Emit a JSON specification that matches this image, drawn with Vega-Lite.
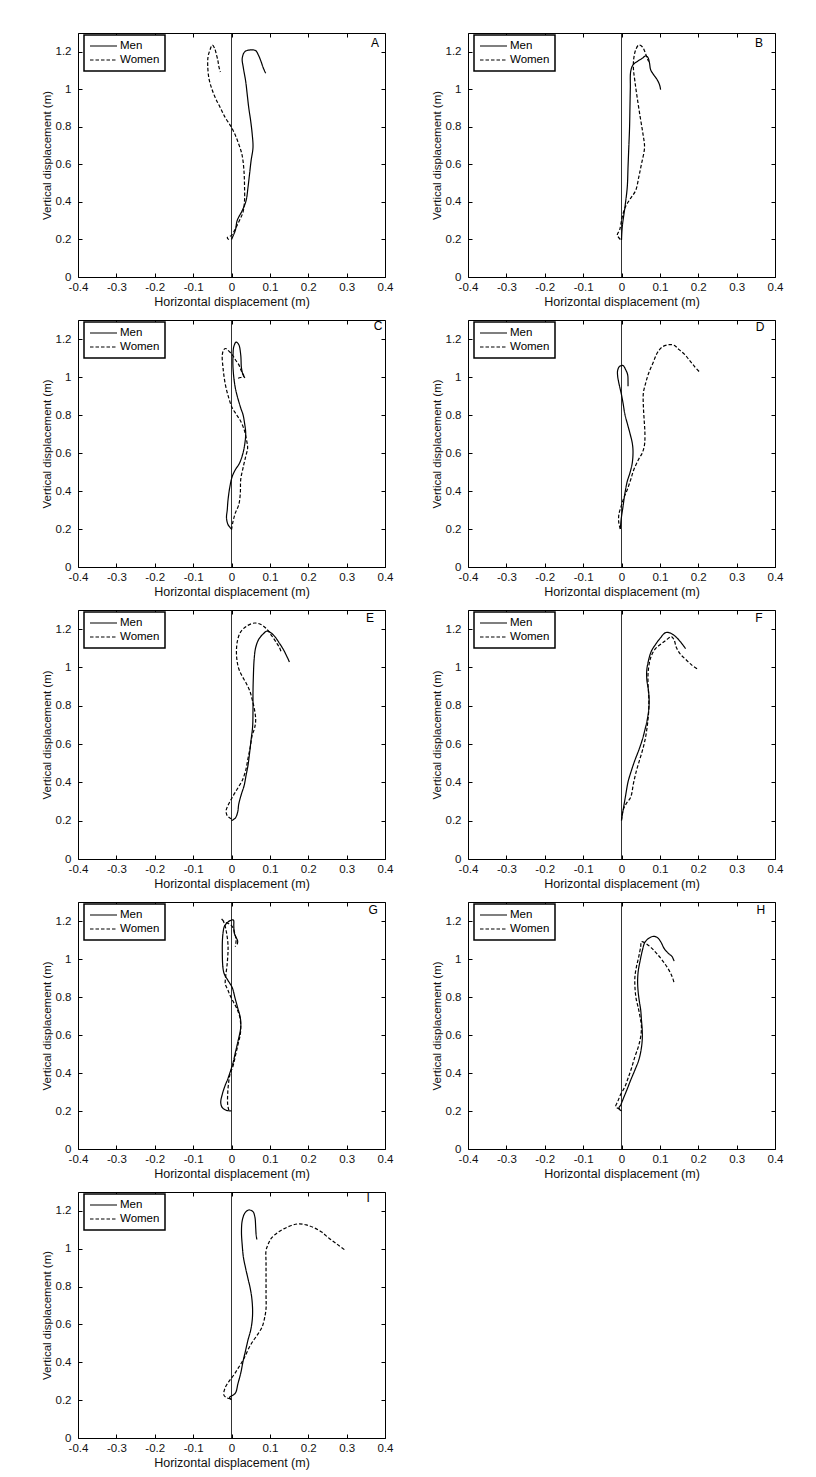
{
"$schema":"https://vega.github.io/schema/vega-lite/v6.json",
"background":"white",
"autosize":{"type":"pad"},
"padding":{"left":40,"top":32,"right":5,"bottom":5},
"config":{
 "view":{"stroke":"black","strokeWidth":1},
 "axis":{"domain":false,"grid":false,"tickSize":-4,"tickColor":"black","tickWidth":1,"labelFont":"Liberation Sans","labelFontSize":11.5,"labelColor":"#111","titleFont":"Liberation Sans","titleFontWeight":"normal","titleColor":"#111","labelFlush":false,"labelOverlap":false,"labelBound":false,"labelExpr":"replace(format(datum.value,'~g'),'−','-')"},
 "axisX":{"labelPadding":8,"titleFontSize":12.5,"titlePadding":3},
 "axisY":{"labelPadding":11,"titleFontSize":11.5,"titlePadding":3},
 "legend":{"symbolType":"stroke","symbolSize":729,"symbolStrokeWidth":1.2,"symbolStrokeColor":"black","labelFont":"Liberation Sans","labelFontSize":11.5,"labelColor":"black","labelOffset":2,"padding":5,"rowPadding":2,"clipHeight":12,"strokeColor":"black","fillColor":"white","strokeWidth":1.5}
},
"data":{"values":[
{"p":"A","g":"Men","i":0,"x":0,"y":0.2},{"p":"A","g":"Men","i":1,"x":0.010,"y":0.249},{"p":"A","g":"Men","i":2,"x":0.015,"y":0.302},{"p":"A","g":"Men","i":3,"x":0.028,"y":0.354},{"p":"A","g":"Men","i":4,"x":0.038,"y":0.407},{"p":"A","g":"Men","i":5,"x":0.043,"y":0.478},{"p":"A","g":"Men","i":6,"x":0.047,"y":0.548},{"p":"A","g":"Men","i":7,"x":0.051,"y":0.619},{"p":"A","g":"Men","i":8,"x":0.056,"y":0.69},{"p":"A","g":"Men","i":9,"x":0.054,"y":0.76},{"p":"A","g":"Men","i":10,"x":0.050,"y":0.831},{"p":"A","g":"Men","i":11,"x":0.045,"y":0.901},{"p":"A","g":"Men","i":12,"x":0.041,"y":0.972},{"p":"A","g":"Men","i":13,"x":0.037,"y":1.042},{"p":"A","g":"Men","i":14,"x":0.031,"y":1.113},{"p":"A","g":"Men","i":15,"x":0.028,"y":1.166},{"p":"A","g":"Men","i":16,"x":0.035,"y":1.201},{"p":"A","g":"Men","i":17,"x":0.050,"y":1.21},{"p":"A","g":"Men","i":18,"x":0.063,"y":1.206},{"p":"A","g":"Men","i":19,"x":0.070,"y":1.183},{"p":"A","g":"Men","i":20,"x":0.077,"y":1.148},{"p":"A","g":"Men","i":21,"x":0.083,"y":1.113},{"p":"A","g":"Men","i":22,"x":0.089,"y":1.086},
{"p":"A","g":"Women","i":0,"x":-0.007,"y":0.199},{"p":"A","g":"Women","i":1,"x":-0.011,"y":0.21},{"p":"A","g":"Women","i":2,"x":0,"y":0.222},{"p":"A","g":"Women","i":3,"x":0.010,"y":0.257},{"p":"A","g":"Women","i":4,"x":0.021,"y":0.302},{"p":"A","g":"Women","i":5,"x":0.030,"y":0.346},{"p":"A","g":"Women","i":6,"x":0.034,"y":0.407},{"p":"A","g":"Women","i":7,"x":0.034,"y":0.478},{"p":"A","g":"Women","i":8,"x":0.033,"y":0.548},{"p":"A","g":"Women","i":9,"x":0.030,"y":0.619},{"p":"A","g":"Women","i":10,"x":0.026,"y":0.663},{"p":"A","g":"Women","i":11,"x":0.019,"y":0.707},{"p":"A","g":"Women","i":12,"x":0.009,"y":0.76},{"p":"A","g":"Women","i":13,"x":-0.002,"y":0.804},{"p":"A","g":"Women","i":14,"x":-0.016,"y":0.848},{"p":"A","g":"Women","i":15,"x":-0.029,"y":0.901},{"p":"A","g":"Women","i":16,"x":-0.042,"y":0.954},{"p":"A","g":"Women","i":17,"x":-0.052,"y":1.007},{"p":"A","g":"Women","i":18,"x":-0.059,"y":1.06},{"p":"A","g":"Women","i":19,"x":-0.062,"y":1.13},{"p":"A","g":"Women","i":20,"x":-0.061,"y":1.175},{"p":"A","g":"Women","i":21,"x":-0.056,"y":1.21},{"p":"A","g":"Women","i":22,"x":-0.050,"y":1.236},{"p":"A","g":"Women","i":23,"x":-0.044,"y":1.219},{"p":"A","g":"Women","i":24,"x":-0.039,"y":1.183},{"p":"A","g":"Women","i":25,"x":-0.035,"y":1.148},{"p":"A","g":"Women","i":26,"x":-0.033,"y":1.122},{"p":"A","g":"Women","i":27,"x":-0.029,"y":1.092},
{"p":"B","g":"Men","i":0,"x":0,"y":0.197},{"p":"B","g":"Men","i":1,"x":0.002,"y":0.268},{"p":"B","g":"Men","i":2,"x":0.009,"y":0.373},{"p":"B","g":"Men","i":3,"x":0.015,"y":0.479},{"p":"B","g":"Men","i":4,"x":0.017,"y":0.585},{"p":"B","g":"Men","i":5,"x":0.019,"y":0.69},{"p":"B","g":"Men","i":6,"x":0.021,"y":0.796},{"p":"B","g":"Men","i":7,"x":0.022,"y":0.901},{"p":"B","g":"Men","i":8,"x":0.023,"y":1.007},{"p":"B","g":"Men","i":9,"x":0.024,"y":1.095},{"p":"B","g":"Men","i":10,"x":0.030,"y":1.13},{"p":"B","g":"Men","i":11,"x":0.041,"y":1.148},{"p":"B","g":"Men","i":12,"x":0.054,"y":1.165},{"p":"B","g":"Men","i":13,"x":0.063,"y":1.178},{"p":"B","g":"Men","i":14,"x":0.069,"y":1.169},{"p":"B","g":"Men","i":15,"x":0.073,"y":1.139},{"p":"B","g":"Men","i":16,"x":0.076,"y":1.104},{"p":"B","g":"Men","i":17,"x":0.084,"y":1.077},{"p":"B","g":"Men","i":18,"x":0.093,"y":1.051},{"p":"B","g":"Men","i":19,"x":0.099,"y":1.025},{"p":"B","g":"Men","i":20,"x":0.102,"y":0.998},
{"p":"B","g":"Women","i":0,"x":-0.003,"y":0.2},{"p":"B","g":"Women","i":1,"x":-0.011,"y":0.224},{"p":"B","g":"Women","i":2,"x":-0.005,"y":0.25},{"p":"B","g":"Women","i":3,"x":0.002,"y":0.32},{"p":"B","g":"Women","i":4,"x":0.010,"y":0.373},{"p":"B","g":"Women","i":5,"x":0.023,"y":0.417},{"p":"B","g":"Women","i":6,"x":0.037,"y":0.461},{"p":"B","g":"Women","i":7,"x":0.045,"y":0.532},{"p":"B","g":"Women","i":8,"x":0.052,"y":0.602},{"p":"B","g":"Women","i":9,"x":0.060,"y":0.69},{"p":"B","g":"Women","i":10,"x":0.056,"y":0.761},{"p":"B","g":"Women","i":11,"x":0.049,"y":0.849},{"p":"B","g":"Women","i":12,"x":0.041,"y":0.954},{"p":"B","g":"Women","i":13,"x":0.035,"y":1.042},{"p":"B","g":"Women","i":14,"x":0.031,"y":1.113},{"p":"B","g":"Women","i":15,"x":0.032,"y":1.165},{"p":"B","g":"Women","i":16,"x":0.037,"y":1.21},{"p":"B","g":"Women","i":17,"x":0.045,"y":1.236},{"p":"B","g":"Women","i":18,"x":0.054,"y":1.227},{"p":"B","g":"Women","i":19,"x":0.061,"y":1.2},{"p":"B","g":"Women","i":20,"x":0.067,"y":1.165},{"p":"B","g":"Women","i":21,"x":0.071,"y":1.148},
{"p":"C","g":"Men","i":0,"x":0,"y":0.2},{"p":"C","g":"Men","i":1,"x":-0.009,"y":0.223},{"p":"C","g":"Men","i":2,"x":-0.013,"y":0.258},{"p":"C","g":"Men","i":3,"x":-0.011,"y":0.302},{"p":"C","g":"Men","i":4,"x":-0.009,"y":0.354},{"p":"C","g":"Men","i":5,"x":-0.004,"y":0.425},{"p":"C","g":"Men","i":6,"x":0.002,"y":0.477},{"p":"C","g":"Men","i":7,"x":0.010,"y":0.512},{"p":"C","g":"Men","i":8,"x":0.021,"y":0.547},{"p":"C","g":"Men","i":9,"x":0.030,"y":0.6},{"p":"C","g":"Men","i":10,"x":0.035,"y":0.653},{"p":"C","g":"Men","i":11,"x":0.037,"y":0.705},{"p":"C","g":"Men","i":12,"x":0.034,"y":0.758},{"p":"C","g":"Men","i":13,"x":0.030,"y":0.802},{"p":"C","g":"Men","i":14,"x":0.024,"y":0.837},{"p":"C","g":"Men","i":15,"x":0.010,"y":0.942},{"p":"C","g":"Men","i":16,"x":0.004,"y":1.047},{"p":"C","g":"Men","i":17,"x":0.004,"y":1.117},{"p":"C","g":"Men","i":18,"x":0.006,"y":1.16},{"p":"C","g":"Men","i":19,"x":0.012,"y":1.184},{"p":"C","g":"Men","i":20,"x":0.019,"y":1.17},{"p":"C","g":"Men","i":21,"x":0.024,"y":1.117},{"p":"C","g":"Men","i":22,"x":0.026,"y":1.047},{"p":"C","g":"Men","i":23,"x":0.030,"y":1.012},{"p":"C","g":"Men","i":24,"x":0.035,"y":0.995},
{"p":"C","g":"Women","i":0,"x":0,"y":0.196},{"p":"C","g":"Women","i":1,"x":0.004,"y":0.24},{"p":"C","g":"Women","i":2,"x":0.010,"y":0.284},{"p":"C","g":"Women","i":3,"x":0.019,"y":0.328},{"p":"C","g":"Women","i":4,"x":0.023,"y":0.389},{"p":"C","g":"Women","i":5,"x":0.024,"y":0.46},{"p":"C","g":"Women","i":6,"x":0.030,"y":0.521},{"p":"C","g":"Women","i":7,"x":0.037,"y":0.582},{"p":"C","g":"Women","i":8,"x":0.042,"y":0.626},{"p":"C","g":"Women","i":9,"x":0.039,"y":0.67},{"p":"C","g":"Women","i":10,"x":0.033,"y":0.723},{"p":"C","g":"Women","i":11,"x":0.024,"y":0.767},{"p":"C","g":"Women","i":12,"x":0.013,"y":0.802},{"p":"C","g":"Women","i":13,"x":0.002,"y":0.837},{"p":"C","g":"Women","i":14,"x":-0.007,"y":0.889},{"p":"C","g":"Women","i":15,"x":-0.016,"y":0.96},{"p":"C","g":"Women","i":16,"x":-0.022,"y":1.047},{"p":"C","g":"Women","i":17,"x":-0.024,"y":1.117},{"p":"C","g":"Women","i":18,"x":-0.020,"y":1.144},{"p":"C","g":"Women","i":19,"x":-0.015,"y":1.15},{"p":"C","g":"Women","i":20,"x":-0.011,"y":1.144},{"p":"C","g":"Women","i":21,"x":0.002,"y":1.117},{"p":"C","g":"Women","i":22,"x":0.010,"y":1.091},{"p":"C","g":"Women","i":23,"x":0.019,"y":1.065},{"p":"C","g":"Women","i":24,"x":0.026,"y":1.03},{"p":"C","g":"Women","i":25,"x":0.032,"y":1.004},{"p":"C","g":"Women","i":26,"x":0.019,"y":0.995},{"p":"C","g":"Women","i":27,"x":0.015,"y":0.99},
{"p":"D","g":"Men","i":0,"x":-0.003,"y":0.2},{"p":"D","g":"Men","i":1,"x":-0.001,"y":0.249},{"p":"D","g":"Men","i":2,"x":0.004,"y":0.319},{"p":"D","g":"Men","i":3,"x":0.009,"y":0.389},{"p":"D","g":"Men","i":4,"x":0.015,"y":0.451},{"p":"D","g":"Men","i":5,"x":0.022,"y":0.495},{"p":"D","g":"Men","i":6,"x":0.028,"y":0.547},{"p":"D","g":"Men","i":7,"x":0.030,"y":0.609},{"p":"D","g":"Men","i":8,"x":0.028,"y":0.653},{"p":"D","g":"Men","i":9,"x":0.023,"y":0.696},{"p":"D","g":"Men","i":10,"x":0.016,"y":0.749},{"p":"D","g":"Men","i":11,"x":0.009,"y":0.802},{"p":"D","g":"Men","i":12,"x":0.004,"y":0.863},{"p":"D","g":"Men","i":13,"x":-0.001,"y":0.916},{"p":"D","g":"Men","i":14,"x":-0.006,"y":0.96},{"p":"D","g":"Men","i":15,"x":-0.010,"y":1.004},{"p":"D","g":"Men","i":16,"x":-0.010,"y":1.035},{"p":"D","g":"Men","i":17,"x":-0.005,"y":1.056},{"p":"D","g":"Men","i":18,"x":0.004,"y":1.06},{"p":"D","g":"Men","i":19,"x":0.010,"y":1.042},{"p":"D","g":"Men","i":20,"x":0.016,"y":1.012},{"p":"D","g":"Men","i":21,"x":0.017,"y":0.977},{"p":"D","g":"Men","i":22,"x":0.017,"y":0.951},
{"p":"D","g":"Women","i":0,"x":-0.003,"y":0.2},{"p":"D","g":"Women","i":1,"x":-0.007,"y":0.232},{"p":"D","g":"Women","i":2,"x":-0.007,"y":0.275},{"p":"D","g":"Women","i":3,"x":-0.001,"y":0.319},{"p":"D","g":"Women","i":4,"x":0.006,"y":0.363},{"p":"D","g":"Women","i":5,"x":0.015,"y":0.407},{"p":"D","g":"Women","i":6,"x":0.024,"y":0.46},{"p":"D","g":"Women","i":7,"x":0.032,"y":0.512},{"p":"D","g":"Women","i":8,"x":0.044,"y":0.565},{"p":"D","g":"Women","i":9,"x":0.054,"y":0.6},{"p":"D","g":"Women","i":10,"x":0.060,"y":0.644},{"p":"D","g":"Women","i":11,"x":0.061,"y":0.705},{"p":"D","g":"Women","i":12,"x":0.059,"y":0.775},{"p":"D","g":"Women","i":13,"x":0.057,"y":0.846},{"p":"D","g":"Women","i":14,"x":0.057,"y":0.916},{"p":"D","g":"Women","i":15,"x":0.063,"y":0.968},{"p":"D","g":"Women","i":16,"x":0.071,"y":1.021},{"p":"D","g":"Women","i":17,"x":0.082,"y":1.074},{"p":"D","g":"Women","i":18,"x":0.093,"y":1.126},{"p":"D","g":"Women","i":19,"x":0.106,"y":1.158},{"p":"D","g":"Women","i":20,"x":0.124,"y":1.17},{"p":"D","g":"Women","i":21,"x":0.137,"y":1.167},{"p":"D","g":"Women","i":22,"x":0.150,"y":1.144},{"p":"D","g":"Women","i":23,"x":0.165,"y":1.118},{"p":"D","g":"Women","i":24,"x":0.177,"y":1.088},{"p":"D","g":"Women","i":25,"x":0.190,"y":1.056},{"p":"D","g":"Women","i":26,"x":0.204,"y":1.025},
{"p":"E","g":"Men","i":0,"x":0,"y":0.2},{"p":"E","g":"Men","i":1,"x":0.010,"y":0.214},{"p":"E","g":"Men","i":2,"x":0.016,"y":0.244},{"p":"E","g":"Men","i":3,"x":0.019,"y":0.288},{"p":"E","g":"Men","i":4,"x":0.026,"y":0.34},{"p":"E","g":"Men","i":5,"x":0.033,"y":0.384},{"p":"E","g":"Men","i":6,"x":0.038,"y":0.437},{"p":"E","g":"Men","i":7,"x":0.043,"y":0.489},{"p":"E","g":"Men","i":8,"x":0.047,"y":0.551},{"p":"E","g":"Men","i":9,"x":0.051,"y":0.621},{"p":"E","g":"Men","i":10,"x":0.055,"y":0.691},{"p":"E","g":"Men","i":11,"x":0.056,"y":0.779},{"p":"E","g":"Men","i":12,"x":0.056,"y":0.867},{"p":"E","g":"Men","i":13,"x":0.057,"y":0.954},{"p":"E","g":"Men","i":14,"x":0.059,"y":1.042},{"p":"E","g":"Men","i":15,"x":0.063,"y":1.104},{"p":"E","g":"Men","i":16,"x":0.071,"y":1.147},{"p":"E","g":"Men","i":17,"x":0.082,"y":1.174},{"p":"E","g":"Men","i":18,"x":0.093,"y":1.19},{"p":"E","g":"Men","i":19,"x":0.104,"y":1.179},{"p":"E","g":"Men","i":20,"x":0.115,"y":1.156},{"p":"E","g":"Men","i":21,"x":0.125,"y":1.126},{"p":"E","g":"Men","i":22,"x":0.134,"y":1.098},{"p":"E","g":"Men","i":23,"x":0.143,"y":1.063},{"p":"E","g":"Men","i":24,"x":0.151,"y":1.028},
{"p":"E","g":"Women","i":0,"x":0,"y":0.209},{"p":"E","g":"Women","i":1,"x":-0.011,"y":0.226},{"p":"E","g":"Women","i":2,"x":-0.014,"y":0.253},{"p":"E","g":"Women","i":3,"x":-0.007,"y":0.288},{"p":"E","g":"Women","i":4,"x":0.005,"y":0.332},{"p":"E","g":"Women","i":5,"x":0.017,"y":0.372},{"p":"E","g":"Women","i":6,"x":0.028,"y":0.41},{"p":"E","g":"Women","i":7,"x":0.037,"y":0.463},{"p":"E","g":"Women","i":8,"x":0.043,"y":0.525},{"p":"E","g":"Women","i":9,"x":0.049,"y":0.586},{"p":"E","g":"Women","i":10,"x":0.054,"y":0.647},{"p":"E","g":"Women","i":11,"x":0.060,"y":0.682},{"p":"E","g":"Women","i":12,"x":0.063,"y":0.726},{"p":"E","g":"Women","i":13,"x":0.060,"y":0.779},{"p":"E","g":"Women","i":14,"x":0.054,"y":0.832},{"p":"E","g":"Women","i":15,"x":0.047,"y":0.881},{"p":"E","g":"Women","i":16,"x":0.038,"y":0.919},{"p":"E","g":"Women","i":17,"x":0.028,"y":0.954},{"p":"E","g":"Women","i":18,"x":0.019,"y":0.993},{"p":"E","g":"Women","i":19,"x":0.014,"y":1.042},{"p":"E","g":"Women","i":20,"x":0.013,"y":1.095},{"p":"E","g":"Women","i":21,"x":0.016,"y":1.144},{"p":"E","g":"Women","i":22,"x":0.024,"y":1.186},{"p":"E","g":"Women","i":23,"x":0.041,"y":1.218},{"p":"E","g":"Women","i":24,"x":0.061,"y":1.232},{"p":"E","g":"Women","i":25,"x":0.078,"y":1.223},{"p":"E","g":"Women","i":26,"x":0.092,"y":1.2},{"p":"E","g":"Women","i":27,"x":0.104,"y":1.168},{"p":"E","g":"Women","i":28,"x":0.116,"y":1.133},{"p":"E","g":"Women","i":29,"x":0.125,"y":1.104},{"p":"E","g":"Women","i":30,"x":0.130,"y":1.077},
{"p":"F","g":"Men","i":0,"x":0,"y":0.204},{"p":"F","g":"Men","i":1,"x":0.004,"y":0.253},{"p":"F","g":"Men","i":2,"x":0.010,"y":0.323},{"p":"F","g":"Men","i":3,"x":0.017,"y":0.402},{"p":"F","g":"Men","i":4,"x":0.026,"y":0.463},{"p":"F","g":"Men","i":5,"x":0.035,"y":0.516},{"p":"F","g":"Men","i":6,"x":0.045,"y":0.568},{"p":"F","g":"Men","i":7,"x":0.054,"y":0.621},{"p":"F","g":"Men","i":8,"x":0.061,"y":0.674},{"p":"F","g":"Men","i":9,"x":0.067,"y":0.726},{"p":"F","g":"Men","i":10,"x":0.071,"y":0.779},{"p":"F","g":"Men","i":11,"x":0.072,"y":0.832},{"p":"F","g":"Men","i":12,"x":0.070,"y":0.884},{"p":"F","g":"Men","i":13,"x":0.066,"y":0.937},{"p":"F","g":"Men","i":14,"x":0.066,"y":0.989},{"p":"F","g":"Men","i":15,"x":0.071,"y":1.042},{"p":"F","g":"Men","i":16,"x":0.078,"y":1.086},{"p":"F","g":"Men","i":17,"x":0.089,"y":1.121},{"p":"F","g":"Men","i":18,"x":0.102,"y":1.156},{"p":"F","g":"Men","i":19,"x":0.115,"y":1.182},{"p":"F","g":"Men","i":20,"x":0.128,"y":1.179},{"p":"F","g":"Men","i":21,"x":0.141,"y":1.161},{"p":"F","g":"Men","i":22,"x":0.154,"y":1.133},{"p":"F","g":"Men","i":23,"x":0.167,"y":1.098},
{"p":"F","g":"Women","i":0,"x":0,"y":0.2},{"p":"F","g":"Women","i":1,"x":0.004,"y":0.253},{"p":"F","g":"Women","i":2,"x":0.012,"y":0.288},{"p":"F","g":"Women","i":3,"x":0.024,"y":0.323},{"p":"F","g":"Women","i":4,"x":0.031,"y":0.393},{"p":"F","g":"Women","i":5,"x":0.038,"y":0.454},{"p":"F","g":"Women","i":6,"x":0.047,"y":0.516},{"p":"F","g":"Women","i":7,"x":0.056,"y":0.577},{"p":"F","g":"Women","i":8,"x":0.063,"y":0.639},{"p":"F","g":"Women","i":9,"x":0.068,"y":0.709},{"p":"F","g":"Women","i":10,"x":0.071,"y":0.779},{"p":"F","g":"Women","i":11,"x":0.071,"y":0.849},{"p":"F","g":"Women","i":12,"x":0.069,"y":0.919},{"p":"F","g":"Women","i":13,"x":0.070,"y":0.989},{"p":"F","g":"Women","i":14,"x":0.076,"y":1.051},{"p":"F","g":"Women","i":15,"x":0.087,"y":1.095},{"p":"F","g":"Women","i":16,"x":0.102,"y":1.121},{"p":"F","g":"Women","i":17,"x":0.117,"y":1.144},{"p":"F","g":"Women","i":18,"x":0.130,"y":1.161},{"p":"F","g":"Women","i":19,"x":0.137,"y":1.144},{"p":"F","g":"Women","i":20,"x":0.143,"y":1.104},{"p":"F","g":"Women","i":21,"x":0.154,"y":1.068},{"p":"F","g":"Women","i":22,"x":0.169,"y":1.039},{"p":"F","g":"Women","i":23,"x":0.184,"y":1.011},{"p":"F","g":"Women","i":24,"x":0.197,"y":0.993},
{"p":"G","g":"Men","i":0,"x":0,"y":0.2},{"p":"G","g":"Men","i":1,"x":-0.014,"y":0.204},{"p":"G","g":"Men","i":2,"x":-0.024,"y":0.218},{"p":"G","g":"Men","i":3,"x":-0.028,"y":0.244},{"p":"G","g":"Men","i":4,"x":-0.024,"y":0.288},{"p":"G","g":"Men","i":5,"x":-0.017,"y":0.332},{"p":"G","g":"Men","i":6,"x":-0.010,"y":0.367},{"p":"G","g":"Men","i":7,"x":-0.004,"y":0.402},{"p":"G","g":"Men","i":8,"x":0.004,"y":0.454},{"p":"G","g":"Men","i":9,"x":0.010,"y":0.507},{"p":"G","g":"Men","i":10,"x":0.017,"y":0.568},{"p":"G","g":"Men","i":11,"x":0.024,"y":0.639},{"p":"G","g":"Men","i":12,"x":0.023,"y":0.691},{"p":"G","g":"Men","i":13,"x":0.016,"y":0.744},{"p":"G","g":"Men","i":14,"x":0.009,"y":0.796},{"p":"G","g":"Men","i":15,"x":0.002,"y":0.849},{"p":"G","g":"Men","i":16,"x":-0.010,"y":0.89},{"p":"G","g":"Men","i":17,"x":-0.020,"y":0.928},{"p":"G","g":"Men","i":18,"x":-0.024,"y":1.051},{"p":"G","g":"Men","i":19,"x":-0.022,"y":1.139},{"p":"G","g":"Men","i":20,"x":-0.018,"y":1.174},{"p":"G","g":"Men","i":21,"x":-0.009,"y":1.195},{"p":"G","g":"Men","i":22,"x":0,"y":1.205},{"p":"G","g":"Men","i":23,"x":0.005,"y":1.205},{"p":"G","g":"Men","i":24,"x":0.006,"y":1.174},{"p":"G","g":"Men","i":25,"x":0.007,"y":1.139},{"p":"G","g":"Men","i":26,"x":0.011,"y":1.118},{"p":"G","g":"Men","i":27,"x":0.016,"y":1.095},{"p":"G","g":"Men","i":28,"x":0.015,"y":1.077},
{"p":"G","g":"Women","i":0,"x":-0.007,"y":0.204},{"p":"G","g":"Women","i":1,"x":-0.010,"y":0.235},{"p":"G","g":"Women","i":2,"x":-0.010,"y":0.288},{"p":"G","g":"Women","i":3,"x":-0.008,"y":0.34},{"p":"G","g":"Women","i":4,"x":-0.004,"y":0.393},{"p":"G","g":"Women","i":5,"x":0.004,"y":0.437},{"p":"G","g":"Women","i":6,"x":0.010,"y":0.489},{"p":"G","g":"Women","i":7,"x":0.017,"y":0.551},{"p":"G","g":"Women","i":8,"x":0.023,"y":0.604},{"p":"G","g":"Women","i":9,"x":0.024,"y":0.647},{"p":"G","g":"Women","i":10,"x":0.022,"y":0.691},{"p":"G","g":"Women","i":11,"x":0.015,"y":0.735},{"p":"G","g":"Women","i":12,"x":0.006,"y":0.77},{"p":"G","g":"Women","i":13,"x":-0.003,"y":0.805},{"p":"G","g":"Women","i":14,"x":-0.010,"y":0.84},{"p":"G","g":"Women","i":15,"x":-0.016,"y":0.867},{"p":"G","g":"Women","i":16,"x":-0.016,"y":0.893},{"p":"G","g":"Women","i":17,"x":-0.011,"y":0.98},{"p":"G","g":"Women","i":18,"x":-0.009,"y":1.068},{"p":"G","g":"Women","i":19,"x":-0.013,"y":1.139},{"p":"G","g":"Women","i":20,"x":-0.018,"y":1.183},{"p":"G","g":"Women","i":21,"x":-0.023,"y":1.205},{"p":"G","g":"Women","i":22,"x":-0.026,"y":1.212},{"p":"G","g":"Women","i":23,"x":-0.021,"y":1.2},{"p":"G","g":"Women","i":24,"x":-0.012,"y":1.19},{"p":"G","g":"Women","i":25,"x":-0.002,"y":1.18},{"p":"G","g":"Women","i":26,"x":0.005,"y":1.16},{"p":"G","g":"Women","i":27,"x":0.009,"y":1.13},{"p":"G","g":"Women","i":28,"x":0.012,"y":1.1},{"p":"G","g":"Women","i":29,"x":0.010,"y":1.065},
{"p":"H","g":"Men","i":0,"x":0,"y":0.2},{"p":"H","g":"Men","i":1,"x":-0.007,"y":0.214},{"p":"H","g":"Men","i":2,"x":-0.002,"y":0.232},{"p":"H","g":"Men","i":3,"x":0.005,"y":0.267},{"p":"H","g":"Men","i":4,"x":0.014,"y":0.311},{"p":"H","g":"Men","i":5,"x":0.024,"y":0.363},{"p":"H","g":"Men","i":6,"x":0.035,"y":0.416},{"p":"H","g":"Men","i":7,"x":0.045,"y":0.468},{"p":"H","g":"Men","i":8,"x":0.051,"y":0.521},{"p":"H","g":"Men","i":9,"x":0.054,"y":0.574},{"p":"H","g":"Men","i":10,"x":0.054,"y":0.626},{"p":"H","g":"Men","i":11,"x":0.052,"y":0.679},{"p":"H","g":"Men","i":12,"x":0.050,"y":0.732},{"p":"H","g":"Men","i":13,"x":0.046,"y":0.784},{"p":"H","g":"Men","i":14,"x":0.043,"y":0.837},{"p":"H","g":"Men","i":15,"x":0.042,"y":0.889},{"p":"H","g":"Men","i":16,"x":0.044,"y":0.942},{"p":"H","g":"Men","i":17,"x":0.049,"y":0.995},{"p":"H","g":"Men","i":18,"x":0.054,"y":1.042},{"p":"H","g":"Men","i":19,"x":0.061,"y":1.088},{"p":"H","g":"Men","i":20,"x":0.071,"y":1.109},{"p":"H","g":"Men","i":21,"x":0.083,"y":1.119},{"p":"H","g":"Men","i":22,"x":0.094,"y":1.112},{"p":"H","g":"Men","i":23,"x":0.103,"y":1.088},{"p":"H","g":"Men","i":24,"x":0.111,"y":1.056},{"p":"H","g":"Men","i":25,"x":0.122,"y":1.03},{"p":"H","g":"Men","i":26,"x":0.132,"y":1.012},{"p":"H","g":"Men","i":27,"x":0.137,"y":0.989},
{"p":"H","g":"Women","i":0,"x":-0.004,"y":0.21},{"p":"H","g":"Women","i":1,"x":-0.015,"y":0.223},{"p":"H","g":"Women","i":2,"x":-0.010,"y":0.249},{"p":"H","g":"Women","i":3,"x":-0.002,"y":0.288},{"p":"H","g":"Women","i":4,"x":0.009,"y":0.328},{"p":"H","g":"Women","i":5,"x":0.017,"y":0.372},{"p":"H","g":"Women","i":6,"x":0.026,"y":0.425},{"p":"H","g":"Women","i":7,"x":0.035,"y":0.486},{"p":"H","g":"Women","i":8,"x":0.044,"y":0.539},{"p":"H","g":"Women","i":9,"x":0.050,"y":0.591},{"p":"H","g":"Women","i":10,"x":0.052,"y":0.644},{"p":"H","g":"Women","i":11,"x":0.049,"y":0.688},{"p":"H","g":"Women","i":12,"x":0.044,"y":0.74},{"p":"H","g":"Women","i":13,"x":0.038,"y":0.793},{"p":"H","g":"Women","i":14,"x":0.035,"y":0.854},{"p":"H","g":"Women","i":15,"x":0.035,"y":0.907},{"p":"H","g":"Women","i":16,"x":0.039,"y":0.96},{"p":"H","g":"Women","i":17,"x":0.045,"y":1.012},{"p":"H","g":"Women","i":18,"x":0.050,"y":1.065},{"p":"H","g":"Women","i":19,"x":0.052,"y":1.091},{"p":"H","g":"Women","i":20,"x":0.063,"y":1.082},{"p":"H","g":"Women","i":21,"x":0.077,"y":1.06},{"p":"H","g":"Women","i":22,"x":0.089,"y":1.035},{"p":"H","g":"Women","i":23,"x":0.101,"y":1.007},{"p":"H","g":"Women","i":24,"x":0.113,"y":0.975},{"p":"H","g":"Women","i":25,"x":0.124,"y":0.94},{"p":"H","g":"Women","i":26,"x":0.132,"y":0.907},{"p":"H","g":"Women","i":27,"x":0.137,"y":0.875},
{"p":"I","g":"Men","i":0,"x":0,"y":0.202},{"p":"I","g":"Men","i":1,"x":-0.005,"y":0.214},{"p":"I","g":"Men","i":2,"x":0.010,"y":0.237},{"p":"I","g":"Men","i":3,"x":0.017,"y":0.289},{"p":"I","g":"Men","i":4,"x":0.024,"y":0.342},{"p":"I","g":"Men","i":5,"x":0.030,"y":0.404},{"p":"I","g":"Men","i":6,"x":0.037,"y":0.465},{"p":"I","g":"Men","i":7,"x":0.043,"y":0.518},{"p":"I","g":"Men","i":8,"x":0.050,"y":0.57},{"p":"I","g":"Men","i":9,"x":0.054,"y":0.623},{"p":"I","g":"Men","i":10,"x":0.055,"y":0.675},{"p":"I","g":"Men","i":11,"x":0.053,"y":0.737},{"p":"I","g":"Men","i":12,"x":0.049,"y":0.789},{"p":"I","g":"Men","i":13,"x":0.043,"y":0.842},{"p":"I","g":"Men","i":14,"x":0.037,"y":0.895},{"p":"I","g":"Men","i":15,"x":0.031,"y":0.956},{"p":"I","g":"Men","i":16,"x":0.028,"y":1.018},{"p":"I","g":"Men","i":17,"x":0.026,"y":1.088},{"p":"I","g":"Men","i":18,"x":0.028,"y":1.149},{"p":"I","g":"Men","i":19,"x":0.035,"y":1.189},{"p":"I","g":"Men","i":20,"x":0.045,"y":1.205},{"p":"I","g":"Men","i":21,"x":0.056,"y":1.196},{"p":"I","g":"Men","i":22,"x":0.061,"y":1.167},{"p":"I","g":"Men","i":23,"x":0.063,"y":1.114},{"p":"I","g":"Men","i":24,"x":0.064,"y":1.079},{"p":"I","g":"Men","i":25,"x":0.066,"y":1.049},
{"p":"I","g":"Women","i":0,"x":-0.002,"y":0.207},{"p":"I","g":"Women","i":1,"x":-0.014,"y":0.214},{"p":"I","g":"Women","i":2,"x":-0.020,"y":0.228},{"p":"I","g":"Women","i":3,"x":-0.017,"y":0.263},{"p":"I","g":"Women","i":4,"x":-0.007,"y":0.298},{"p":"I","g":"Women","i":5,"x":0.006,"y":0.333},{"p":"I","g":"Women","i":6,"x":0.017,"y":0.368},{"p":"I","g":"Women","i":7,"x":0.028,"y":0.404},{"p":"I","g":"Women","i":8,"x":0.037,"y":0.439},{"p":"I","g":"Women","i":9,"x":0.047,"y":0.482},{"p":"I","g":"Women","i":10,"x":0.058,"y":0.518},{"p":"I","g":"Women","i":11,"x":0.070,"y":0.553},{"p":"I","g":"Women","i":12,"x":0.080,"y":0.588},{"p":"I","g":"Women","i":13,"x":0.086,"y":0.632},{"p":"I","g":"Women","i":14,"x":0.090,"y":0.684},{"p":"I","g":"Women","i":15,"x":0.090,"y":0.754},{"p":"I","g":"Women","i":16,"x":0.090,"y":0.842},{"p":"I","g":"Women","i":17,"x":0.090,"y":0.93},{"p":"I","g":"Women","i":18,"x":0.090,"y":0.991},{"p":"I","g":"Women","i":19,"x":0.096,"y":1.026},{"p":"I","g":"Women","i":20,"x":0.104,"y":1.056},{"p":"I","g":"Women","i":21,"x":0.119,"y":1.084},{"p":"I","g":"Women","i":22,"x":0.136,"y":1.105},{"p":"I","g":"Women","i":23,"x":0.156,"y":1.123},{"p":"I","g":"Women","i":24,"x":0.176,"y":1.132},{"p":"I","g":"Women","i":25,"x":0.195,"y":1.126},{"p":"I","g":"Women","i":26,"x":0.215,"y":1.111},{"p":"I","g":"Women","i":27,"x":0.235,"y":1.088},{"p":"I","g":"Women","i":28,"x":0.254,"y":1.056},{"p":"I","g":"Women","i":29,"x":0.274,"y":1.026},{"p":"I","g":"Women","i":30,"x":0.297,"y":0.991}
]},
"columns":2,
"spacing":{"row":43,"column":83},
"bounds":"flush",
"align":"each",
"resolve":{"scale":{"strokeDash":"independent"},"legend":{"strokeDash":"independent"}},
"concat":[
{"width":307,"height":244,"layer":[
{"transform":[{"filter":"datum.p=='A'"}],"mark":{"type":"line","color":"black","strokeWidth":1.2,"interpolate":"catmull-rom"},"encoding":{"x":{"field":"x","type":"quantitative","scale":{"domain":[-0.4,0.4],"nice":false,"zero":false},"axis":{"orient":"bottom","values":[-0.4,-0.3,-0.2,-0.1,0,0.1,0.2,0.3,0.4],"title":"Horizontal displacement (m)"}},"y":{"field":"y","type":"quantitative","scale":{"domain":[0,1.3],"nice":false,"zero":false},"axis":{"orient":"left","values":[0,0.2,0.4,0.6,0.8,1,1.2],"title":"Vertical displacement (m)"}},"strokeDash":{"field":"g","type":"nominal","scale":{"domain":["Men","Women"],"range":[[1,0],[3.5,2]]},"legend":{"title":null,"orient":"none","legendX":6,"legendY":2}},"order":{"field":"i","type":"quantitative"}}},
{"data":{"values":[{}]},"mark":{"type":"rule","color":"black","strokeWidth":0.8},"encoding":{"x":{"datum":0,"scale":{"domain":[-0.4,0.4],"nice":false,"zero":false},"axis":{"orient":"top","values":[-0.4,-0.3,-0.2,-0.1,0,0.1,0.2,0.3,0.4],"title":null,"labels":false}}}},
{"data":{"values":[{}]},"mark":{"type":"text","font":"Liberation Sans","fontSize":12,"color":"black"},"encoding":{"x":{"datum":0.374,"scale":{"domain":[-0.4,0.4],"nice":false,"zero":false},"axis":null},"y":{"datum":1.249,"scale":{"domain":[0,1.3],"nice":false,"zero":false},"axis":{"orient":"right","values":[0,0.2,0.4,0.6,0.8,1,1.2],"title":null,"labels":false}},"text":{"value":"A"}}}
],"resolve":{"axis":{"x":"independent","y":"independent"}}},
{"width":307,"height":244,"layer":[
{"transform":[{"filter":"datum.p=='B'"}],"mark":{"type":"line","color":"black","strokeWidth":1.2,"interpolate":"catmull-rom"},"encoding":{"x":{"field":"x","type":"quantitative","scale":{"domain":[-0.4,0.4],"nice":false,"zero":false},"axis":{"orient":"bottom","values":[-0.4,-0.3,-0.2,-0.1,0,0.1,0.2,0.3,0.4],"title":"Horizontal displacement (m)"}},"y":{"field":"y","type":"quantitative","scale":{"domain":[0,1.3],"nice":false,"zero":false},"axis":{"orient":"left","values":[0,0.2,0.4,0.6,0.8,1,1.2],"title":"Vertical displacement (m)"}},"strokeDash":{"field":"g","type":"nominal","scale":{"domain":["Men","Women"],"range":[[1,0],[3.5,2]]},"legend":{"title":null,"orient":"none","legendX":6,"legendY":2}},"order":{"field":"i","type":"quantitative"}}},
{"data":{"values":[{}]},"mark":{"type":"rule","color":"black","strokeWidth":0.8},"encoding":{"x":{"datum":0,"scale":{"domain":[-0.4,0.4],"nice":false,"zero":false},"axis":{"orient":"top","values":[-0.4,-0.3,-0.2,-0.1,0,0.1,0.2,0.3,0.4],"title":null,"labels":false}}}},
{"data":{"values":[{}]},"mark":{"type":"text","font":"Liberation Sans","fontSize":12,"color":"black"},"encoding":{"x":{"datum":0.358,"scale":{"domain":[-0.4,0.4],"nice":false,"zero":false},"axis":null},"y":{"datum":1.247,"scale":{"domain":[0,1.3],"nice":false,"zero":false},"axis":{"orient":"right","values":[0,0.2,0.4,0.6,0.8,1,1.2],"title":null,"labels":false}},"text":{"value":"B"}}}
],"resolve":{"axis":{"x":"independent","y":"independent"}}},
{"width":307,"height":247,"layer":[
{"transform":[{"filter":"datum.p=='C'"}],"mark":{"type":"line","color":"black","strokeWidth":1.2,"interpolate":"catmull-rom"},"encoding":{"x":{"field":"x","type":"quantitative","scale":{"domain":[-0.4,0.4],"nice":false,"zero":false},"axis":{"orient":"bottom","values":[-0.4,-0.3,-0.2,-0.1,0,0.1,0.2,0.3,0.4],"title":"Horizontal displacement (m)"}},"y":{"field":"y","type":"quantitative","scale":{"domain":[0,1.3],"nice":false,"zero":false},"axis":{"orient":"left","values":[0,0.2,0.4,0.6,0.8,1,1.2],"title":"Vertical displacement (m)"}},"strokeDash":{"field":"g","type":"nominal","scale":{"domain":["Men","Women"],"range":[[1,0],[3.5,2]]},"legend":{"title":null,"orient":"none","legendX":6,"legendY":2}},"order":{"field":"i","type":"quantitative"}}},
{"data":{"values":[{}]},"mark":{"type":"rule","color":"black","strokeWidth":0.8},"encoding":{"x":{"datum":0,"scale":{"domain":[-0.4,0.4],"nice":false,"zero":false},"axis":{"orient":"top","values":[-0.4,-0.3,-0.2,-0.1,0,0.1,0.2,0.3,0.4],"title":null,"labels":false}}}},
{"data":{"values":[{}]},"mark":{"type":"text","font":"Liberation Sans","fontSize":12,"color":"black"},"encoding":{"x":{"datum":0.382,"scale":{"domain":[-0.4,0.4],"nice":false,"zero":false},"axis":null},"y":{"datum":1.268,"scale":{"domain":[0,1.3],"nice":false,"zero":false},"axis":{"orient":"right","values":[0,0.2,0.4,0.6,0.8,1,1.2],"title":null,"labels":false}},"text":{"value":"C"}}}
],"resolve":{"axis":{"x":"independent","y":"independent"}}},
{"width":307,"height":247,"layer":[
{"transform":[{"filter":"datum.p=='D'"}],"mark":{"type":"line","color":"black","strokeWidth":1.2,"interpolate":"catmull-rom"},"encoding":{"x":{"field":"x","type":"quantitative","scale":{"domain":[-0.4,0.4],"nice":false,"zero":false},"axis":{"orient":"bottom","values":[-0.4,-0.3,-0.2,-0.1,0,0.1,0.2,0.3,0.4],"title":"Horizontal displacement (m)"}},"y":{"field":"y","type":"quantitative","scale":{"domain":[0,1.3],"nice":false,"zero":false},"axis":{"orient":"left","values":[0,0.2,0.4,0.6,0.8,1,1.2],"title":"Vertical displacement (m)"}},"strokeDash":{"field":"g","type":"nominal","scale":{"domain":["Men","Women"],"range":[[1,0],[3.5,2]]},"legend":{"title":null,"orient":"none","legendX":6,"legendY":2}},"order":{"field":"i","type":"quantitative"}}},
{"data":{"values":[{}]},"mark":{"type":"rule","color":"black","strokeWidth":0.8},"encoding":{"x":{"datum":0,"scale":{"domain":[-0.4,0.4],"nice":false,"zero":false},"axis":{"orient":"top","values":[-0.4,-0.3,-0.2,-0.1,0,0.1,0.2,0.3,0.4],"title":null,"labels":false}}}},
{"data":{"values":[{}]},"mark":{"type":"text","font":"Liberation Sans","fontSize":12,"color":"black"},"encoding":{"x":{"datum":0.361,"scale":{"domain":[-0.4,0.4],"nice":false,"zero":false},"axis":null},"y":{"datum":1.265,"scale":{"domain":[0,1.3],"nice":false,"zero":false},"axis":{"orient":"right","values":[0,0.2,0.4,0.6,0.8,1,1.2],"title":null,"labels":false}},"text":{"value":"D"}}}
],"resolve":{"axis":{"x":"independent","y":"independent"}}},
{"width":307,"height":249,"layer":[
{"transform":[{"filter":"datum.p=='E'"}],"mark":{"type":"line","color":"black","strokeWidth":1.2,"interpolate":"catmull-rom"},"encoding":{"x":{"field":"x","type":"quantitative","scale":{"domain":[-0.4,0.4],"nice":false,"zero":false},"axis":{"orient":"bottom","values":[-0.4,-0.3,-0.2,-0.1,0,0.1,0.2,0.3,0.4],"title":"Horizontal displacement (m)"}},"y":{"field":"y","type":"quantitative","scale":{"domain":[0,1.3],"nice":false,"zero":false},"axis":{"orient":"left","values":[0,0.2,0.4,0.6,0.8,1,1.2],"title":"Vertical displacement (m)"}},"strokeDash":{"field":"g","type":"nominal","scale":{"domain":["Men","Women"],"range":[[1,0],[3.5,2]]},"legend":{"title":null,"orient":"none","legendX":6,"legendY":2}},"order":{"field":"i","type":"quantitative"}}},
{"data":{"values":[{}]},"mark":{"type":"rule","color":"black","strokeWidth":0.8},"encoding":{"x":{"datum":0,"scale":{"domain":[-0.4,0.4],"nice":false,"zero":false},"axis":{"orient":"top","values":[-0.4,-0.3,-0.2,-0.1,0,0.1,0.2,0.3,0.4],"title":null,"labels":false}}}},
{"data":{"values":[{}]},"mark":{"type":"text","font":"Liberation Sans","fontSize":12,"color":"black"},"encoding":{"x":{"datum":0.361,"scale":{"domain":[-0.4,0.4],"nice":false,"zero":false},"axis":null},"y":{"datum":1.26,"scale":{"domain":[0,1.3],"nice":false,"zero":false},"axis":{"orient":"right","values":[0,0.2,0.4,0.6,0.8,1,1.2],"title":null,"labels":false}},"text":{"value":"E"}}}
],"resolve":{"axis":{"x":"independent","y":"independent"}}},
{"width":307,"height":249,"layer":[
{"transform":[{"filter":"datum.p=='F'"}],"mark":{"type":"line","color":"black","strokeWidth":1.2,"interpolate":"catmull-rom"},"encoding":{"x":{"field":"x","type":"quantitative","scale":{"domain":[-0.4,0.4],"nice":false,"zero":false},"axis":{"orient":"bottom","values":[-0.4,-0.3,-0.2,-0.1,0,0.1,0.2,0.3,0.4],"title":"Horizontal displacement (m)"}},"y":{"field":"y","type":"quantitative","scale":{"domain":[0,1.3],"nice":false,"zero":false},"axis":{"orient":"left","values":[0,0.2,0.4,0.6,0.8,1,1.2],"title":"Vertical displacement (m)"}},"strokeDash":{"field":"g","type":"nominal","scale":{"domain":["Men","Women"],"range":[[1,0],[3.5,2]]},"legend":{"title":null,"orient":"none","legendX":6,"legendY":2}},"order":{"field":"i","type":"quantitative"}}},
{"data":{"values":[{}]},"mark":{"type":"rule","color":"black","strokeWidth":0.8},"encoding":{"x":{"datum":0,"scale":{"domain":[-0.4,0.4],"nice":false,"zero":false},"axis":{"orient":"top","values":[-0.4,-0.3,-0.2,-0.1,0,0.1,0.2,0.3,0.4],"title":null,"labels":false}}}},
{"data":{"values":[{}]},"mark":{"type":"text","font":"Liberation Sans","fontSize":12,"color":"black"},"encoding":{"x":{"datum":0.358,"scale":{"domain":[-0.4,0.4],"nice":false,"zero":false},"axis":null},"y":{"datum":1.26,"scale":{"domain":[0,1.3],"nice":false,"zero":false},"axis":{"orient":"right","values":[0,0.2,0.4,0.6,0.8,1,1.2],"title":null,"labels":false}},"text":{"value":"F"}}}
],"resolve":{"axis":{"x":"independent","y":"independent"}}},
{"width":307,"height":247,"layer":[
{"transform":[{"filter":"datum.p=='G'"}],"mark":{"type":"line","color":"black","strokeWidth":1.2,"interpolate":"catmull-rom"},"encoding":{"x":{"field":"x","type":"quantitative","scale":{"domain":[-0.4,0.4],"nice":false,"zero":false},"axis":{"orient":"bottom","values":[-0.4,-0.3,-0.2,-0.1,0,0.1,0.2,0.3,0.4],"title":"Horizontal displacement (m)"}},"y":{"field":"y","type":"quantitative","scale":{"domain":[0,1.3],"nice":false,"zero":false},"axis":{"orient":"left","values":[0,0.2,0.4,0.6,0.8,1,1.2],"title":"Vertical displacement (m)"}},"strokeDash":{"field":"g","type":"nominal","scale":{"domain":["Men","Women"],"range":[[1,0],[3.5,2]]},"legend":{"title":null,"orient":"none","legendX":6,"legendY":2}},"order":{"field":"i","type":"quantitative"}}},
{"data":{"values":[{}]},"mark":{"type":"rule","color":"black","strokeWidth":0.8},"encoding":{"x":{"datum":0,"scale":{"domain":[-0.4,0.4],"nice":false,"zero":false},"axis":{"orient":"top","values":[-0.4,-0.3,-0.2,-0.1,0,0.1,0.2,0.3,0.4],"title":null,"labels":false}}}},
{"data":{"values":[{}]},"mark":{"type":"text","font":"Liberation Sans","fontSize":12,"color":"black"},"encoding":{"x":{"datum":0.369,"scale":{"domain":[-0.4,0.4],"nice":false,"zero":false},"axis":null},"y":{"datum":1.256,"scale":{"domain":[0,1.3],"nice":false,"zero":false},"axis":{"orient":"right","values":[0,0.2,0.4,0.6,0.8,1,1.2],"title":null,"labels":false}},"text":{"value":"G"}}}
],"resolve":{"axis":{"x":"independent","y":"independent"}}},
{"width":307,"height":247,"layer":[
{"transform":[{"filter":"datum.p=='H'"}],"mark":{"type":"line","color":"black","strokeWidth":1.2,"interpolate":"catmull-rom"},"encoding":{"x":{"field":"x","type":"quantitative","scale":{"domain":[-0.4,0.4],"nice":false,"zero":false},"axis":{"orient":"bottom","values":[-0.4,-0.3,-0.2,-0.1,0,0.1,0.2,0.3,0.4],"title":"Horizontal displacement (m)"}},"y":{"field":"y","type":"quantitative","scale":{"domain":[0,1.3],"nice":false,"zero":false},"axis":{"orient":"left","values":[0,0.2,0.4,0.6,0.8,1,1.2],"title":"Vertical displacement (m)"}},"strokeDash":{"field":"g","type":"nominal","scale":{"domain":["Men","Women"],"range":[[1,0],[3.5,2]]},"legend":{"title":null,"orient":"none","legendX":6,"legendY":2}},"order":{"field":"i","type":"quantitative"}}},
{"data":{"values":[{}]},"mark":{"type":"rule","color":"black","strokeWidth":0.8},"encoding":{"x":{"datum":0,"scale":{"domain":[-0.4,0.4],"nice":false,"zero":false},"axis":{"orient":"top","values":[-0.4,-0.3,-0.2,-0.1,0,0.1,0.2,0.3,0.4],"title":null,"labels":false}}}},
{"data":{"values":[{}]},"mark":{"type":"text","font":"Liberation Sans","fontSize":12,"color":"black"},"encoding":{"x":{"datum":0.363,"scale":{"domain":[-0.4,0.4],"nice":false,"zero":false},"axis":null},"y":{"datum":1.26,"scale":{"domain":[0,1.3],"nice":false,"zero":false},"axis":{"orient":"right","values":[0,0.2,0.4,0.6,0.8,1,1.2],"title":null,"labels":false}},"text":{"value":"H"}}}
],"resolve":{"axis":{"x":"independent","y":"independent"}}},
{"width":307,"height":246,"layer":[
{"transform":[{"filter":"datum.p=='I'"}],"mark":{"type":"line","color":"black","strokeWidth":1.2,"interpolate":"catmull-rom"},"encoding":{"x":{"field":"x","type":"quantitative","scale":{"domain":[-0.4,0.4],"nice":false,"zero":false},"axis":{"orient":"bottom","values":[-0.4,-0.3,-0.2,-0.1,0,0.1,0.2,0.3,0.4],"title":"Horizontal displacement (m)"}},"y":{"field":"y","type":"quantitative","scale":{"domain":[0,1.3],"nice":false,"zero":false},"axis":{"orient":"left","values":[0,0.2,0.4,0.6,0.8,1,1.2],"title":"Vertical displacement (m)"}},"strokeDash":{"field":"g","type":"nominal","scale":{"domain":["Men","Women"],"range":[[1,0],[3.5,2]]},"legend":{"title":null,"orient":"none","legendX":6,"legendY":2}},"order":{"field":"i","type":"quantitative"}}},
{"data":{"values":[{}]},"mark":{"type":"rule","color":"black","strokeWidth":0.8},"encoding":{"x":{"datum":0,"scale":{"domain":[-0.4,0.4],"nice":false,"zero":false},"axis":{"orient":"top","values":[-0.4,-0.3,-0.2,-0.1,0,0.1,0.2,0.3,0.4],"title":null,"labels":false}}}},
{"data":{"values":[{}]},"mark":{"type":"text","font":"Liberation Sans","fontSize":12,"color":"black"},"encoding":{"x":{"datum":0.356,"scale":{"domain":[-0.4,0.4],"nice":false,"zero":false},"axis":null},"y":{"datum":1.268,"scale":{"domain":[0,1.3],"nice":false,"zero":false},"axis":{"orient":"right","values":[0,0.2,0.4,0.6,0.8,1,1.2],"title":null,"labels":false}},"text":{"value":"I"}}}
],"resolve":{"axis":{"x":"independent","y":"independent"}}}
]
}
